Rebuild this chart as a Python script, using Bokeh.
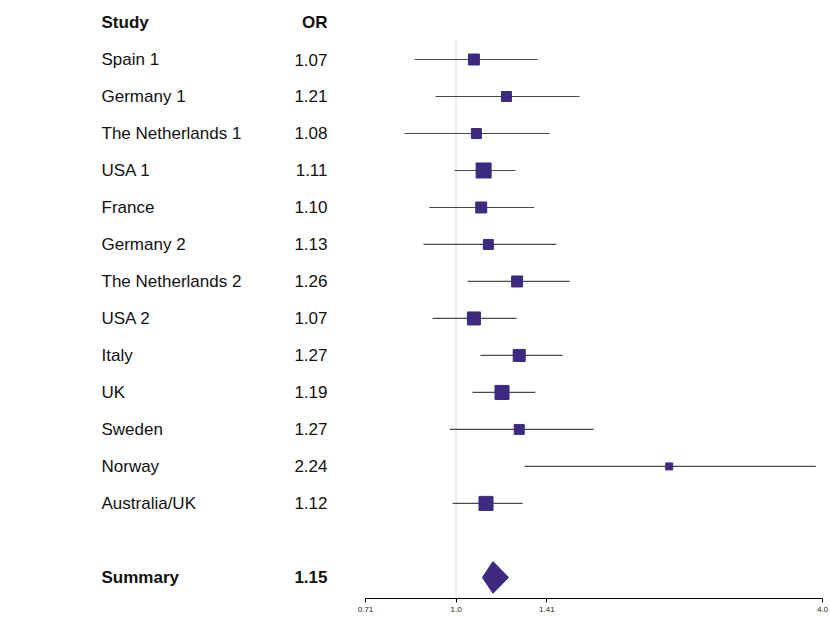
from bokeh.plotting import figure
from bokeh.models import Range1d, FixedTicker, ColumnDataSource
from bokeh.layouts import row
from bokeh.embed import file_html
from bokeh.resources import INLINE
from bokeh.core.properties import value
import math

# ---- data ----
studies = ["Spain 1", "Germany 1", "The Netherlands 1", "USA 1", "France", "Germany 2",
           "The Netherlands 2", "USA 2", "Italy", "UK", "Sweden", "Norway", "Australia/UK"]
odds_ratio = [1.07, 1.21, 1.08, 1.11, 1.10, 1.13, 1.26, 1.07, 1.27, 1.19, 1.27, 2.24, 1.12]
ci_lower = [0.855, 0.925, 0.823, 0.994, 0.904, 0.884, 1.045, 0.915, 1.097, 1.064, 0.976, 1.296, 0.987]
ci_upper = [1.361, 1.595, 1.424, 1.252, 1.345, 1.462, 1.537, 1.257, 1.496, 1.350, 1.683, 3.90, 1.286]
weights = [6.9, 5.7, 5.7, 12.9, 6.9, 5.7, 6.9, 9.7, 8.3, 11.3, 5.7, 2.8, 11.3]
summary_label = "Summary"
summary_or = 1.15
summary_lower = 1.105
summary_upper = 1.22
header_study = "Study"
header_or = "OR"
tick_values = [0.71, 1.0, 1.41, 4.0]
tick_labels = ["0.71", "1.0", "1.41", "4.0"]
null_value = 1.0

# ---- layout ----
n = len(studies)
rows_y = list(range(1, n + 1))
summary_y = n + 2
y_range = Range1d(start=15.57, end=-0.595)

FONT = "Liberation Sans"
FS = "17px"
SQ = "#3c2a80"

# left text panel
left = figure(frame_width=345, frame_height=598, x_range=Range1d(0, 345), y_range=y_range,
              output_backend="svg", toolbar_location=None,
              min_border_left=0, min_border_right=0, min_border_top=0, min_border_bottom=21)
left.axis.visible = False
left.grid.visible = False
left.outline_line_color = None

or_text = ["%.2f" % v for v in odds_ratio]
src = ColumnDataSource(dict(y=rows_y, study=studies, ort=or_text,
                            xs=[101] * n, xo=[327] * n))
left.text(x="xs", y="y", text="study", source=src, text_font=value(FONT), text_font_size=FS,
          text_baseline="middle", text_align="left", text_color="#111111")
left.text(x="xo", y="y", text="ort", source=src, text_font=value(FONT), text_font_size=FS,
          text_baseline="middle", text_align="right", text_color="#111111")
hdr = ColumnDataSource(dict(y=[0, summary_y], a=[header_study, summary_label],
                            b=[header_or, "%.2f" % summary_or], xs=[101, 101], xo=[327, 327]))
left.text(x="xs", y="y", text="a", source=hdr, text_font=value(FONT), text_font_size=FS,
          text_font_style="bold", text_baseline="middle", text_align="left", text_color="#111111")
left.text(x="xo", y="y", text="b", source=hdr, text_font=value(FONT), text_font_size=FS,
          text_font_style="bold", text_baseline="middle", text_align="right", text_color="#111111")

# right forest panel
right = figure(frame_width=457, frame_height=598, x_axis_type="log",
               x_range=Range1d(tick_values[0], tick_values[-1]), y_range=y_range,
               output_backend="svg", toolbar_location=None,
               min_border_left=20, min_border_right=8, min_border_top=0, min_border_bottom=21)
right.yaxis.visible = False
right.grid.visible = False
right.outline_line_color = None
ax = right.xaxis[0]
ax.ticker = FixedTicker(ticks=tick_values)
ax.major_label_overrides = dict(zip(tick_values, tick_labels))
ax.minor_tick_line_color = None
ax.major_tick_out = 4
ax.major_tick_in = 0
ax.axis_line_color = "#000000"
ax.major_tick_line_color = "#000000"
ax.major_label_text_font = FONT
ax.major_label_text_font_size = "8px"
ax.major_label_text_color = "#222222"
ax.major_label_standoff = 4

# null line
right.segment(x0=[null_value], x1=[null_value], y0=[0.5], y1=[y_range.start],
              line_color="#d9d9d9", line_width=1)

sizes = [4.18 * math.sqrt(w) for w in weights]
fsrc = ColumnDataSource(dict(y=rows_y, est=odds_ratio, lo=ci_lower, hi=ci_upper, size=sizes))
right.segment(x0="lo", x1="hi", y0="y", y1="y", source=fsrc, line_color="#4a4a4a", line_width=1.2)
right.scatter(x="est", y="y", source=fsrc, marker="square", size="size",
              fill_color=SQ, line_color=SQ)

h = 0.43
right.patch(x=[summary_lower, summary_or, summary_upper, summary_or],
            y=[summary_y, summary_y - h, summary_y, summary_y + h],
            fill_color=SQ, line_color=SQ)

layout = row(left, right)
open("out.html", "w").write(file_html(layout, INLINE))
